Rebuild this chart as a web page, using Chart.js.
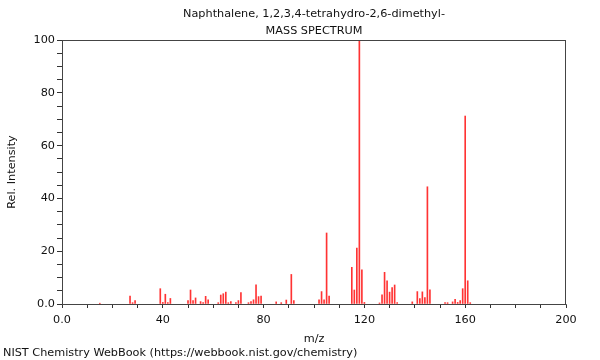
<!DOCTYPE html>
<html>
<head>
<meta charset="utf-8">
<script src="https://cdn.jsdelivr.net/npm/chart.js@4/dist/chart.umd.min.js"></script>
<style>
    html, body { margin: 0; padding: 0; background: #fff; }
    #wrap { width: 600px; height: 360px; }
</style>
</head>
<body>
<div id="wrap"><canvas id="spectrum" width="600" height="360"></canvas></div>
<script>
const titleLines = ['Naphthalene, 1,2,3,4-tetrahydro-2,6-dimethyl-', 'MASS SPECTRUM'];
const footerText = 'NIST Chemistry WebBook (https://webbook.nist.gov/chemistry)';

// m/z positions and relative intensities
const mz = [15, 27, 28, 29, 39, 40, 41, 42, 43, 50, 51, 52, 53, 55, 56, 57, 58,
    62, 63, 64, 65, 66, 67, 69, 70, 71, 74, 75, 76, 77, 78, 79, 85, 87, 89, 91, 92,
    102, 103, 104, 105, 106, 115, 116, 117, 118, 119, 120, 126, 127, 128, 129, 130,
    131, 132, 133, 139, 141, 142, 143, 144, 145, 146, 152, 153, 155, 156, 157, 158,
    159, 160, 161, 162];
const intensity = [0.3, 3.0, 0.5, 1.3, 5.8, 0.6, 3.7, 0.5, 2.1, 1.3, 5.3, 1.3, 2.3, 0.9, 0.5, 2.9, 1.6,
    0.5, 3.4, 3.9, 4.5, 0.5, 0.9, 0.5, 1.3, 4.3, 0.5, 0.9, 1.6, 7.3, 2.8, 3.0, 0.8, 0.5, 1.5, 11.2, 1.3,
    1.6, 4.7, 1.6, 26.9, 3.0, 13.9, 5.3, 21.2, 100, 12.9, 0.6, 0.4, 3.5, 12.0, 8.8, 4.5,
    6.2, 7.2, 0.5, 0.8, 4.7, 2.1, 4.6, 2.4, 44.4, 5.4, 0.5, 0.5, 0.8, 1.8, 0.6, 1.3,
    5.8, 71.2, 8.8, 0.5];

const xLabelEvery = 40;
const yLabelEvery = 20;

const FONT = 'DejaVu Sans, sans-serif';
const textColor = '#111';
const axisColor = '#666';

const peaks = mz.map((m, i) => ({ x: m, y: intensity[i] }));

// titles, footer and the frame round the plot
const extrasPlugin = {
    id: 'extras',
    afterDraw(chart) {
        const { ctx, chartArea } = chart;
        ctx.save();
        ctx.strokeStyle = '#444';
        ctx.lineWidth = 1;
        ctx.strokeRect(chartArea.left + 0.5, chartArea.top + 0.5,
            chartArea.right - chartArea.left - 1, chartArea.bottom - chartArea.top);
        ctx.fillStyle = textColor;
        ctx.font = '11.25px ' + FONT;
        ctx.textAlign = 'center';
        ctx.textBaseline = 'middle';
        const cx = (chartArea.left + chartArea.right) / 2;
        ctx.fillText(titleLines[0], cx, 14);
        ctx.fillText(titleLines[1], cx, 31);
        ctx.textAlign = 'left';
        ctx.fillText(footerText, 3, 353);
        ctx.restore();
    }
};

new Chart(document.getElementById('spectrum'), {
    type: 'bar',
    data: {
        datasets: [{
            data: peaks,
            backgroundColor: 'rgba(255, 0, 0, 0.8)',
            borderWidth: 0,
            barThickness: 1,
            grouped: false
        }]
    },
    options: {
        responsive: false,
        animation: false,
        layout: { padding: { top: 40, right: 34, left: 0, bottom: 14 } },
        plugins: {
            legend: { display: false },
            tooltip: { enabled: false }
        },
        scales: {
            x: {
                type: 'linear',
                min: 0,
                max: 200,
                offset: false,
                afterFit: (scale) => { scale.height = 42; },
                grid: {
                    offset: false,
                    drawOnChartArea: false,
                    color: '#333',
                    tickLength: 4
                },
                border: { color: axisColor, width: 1 },
                ticks: {
                    stepSize: 10,
                    autoSkip: false,
                    maxRotation: 0,
                    padding: 5,
                    color: textColor,
                    font: { family: FONT, size: 11.25 },
                    callback: (v) => v % xLabelEvery === 0 ? (v === 0 ? '0.0' : String(v)) : ''
                },
                title: {
                    display: true,
                    text: 'm/z',
                    color: textColor,
                    font: { family: FONT, size: 11.25 },
                    padding: { top: 0, bottom: 0 }
                }
            },
            y: {
                min: 0,
                max: 100,
                afterFit: (scale) => { scale.width = 62; },
                grid: {
                    drawOnChartArea: false,
                    color: '#333',
                    tickLength: 5
                },
                border: { color: axisColor, width: 1 },
                ticks: {
                    stepSize: 5,
                    autoSkip: false,
                    padding: 2,
                    color: textColor,
                    font: { family: FONT, size: 11.25 },
                    callback: (v) => v % yLabelEvery === 0 ? (v === 0 ? '0.0' : String(v)) : ''
                },
                title: {
                    display: true,
                    text: 'Rel. Intensity',
                    color: textColor,
                    font: { family: FONT, size: 11.25 },
                    padding: { top: 5, bottom: 0 }
                }
            }
        }
    },
    plugins: [extrasPlugin]
});
</script>
</body>
</html>
